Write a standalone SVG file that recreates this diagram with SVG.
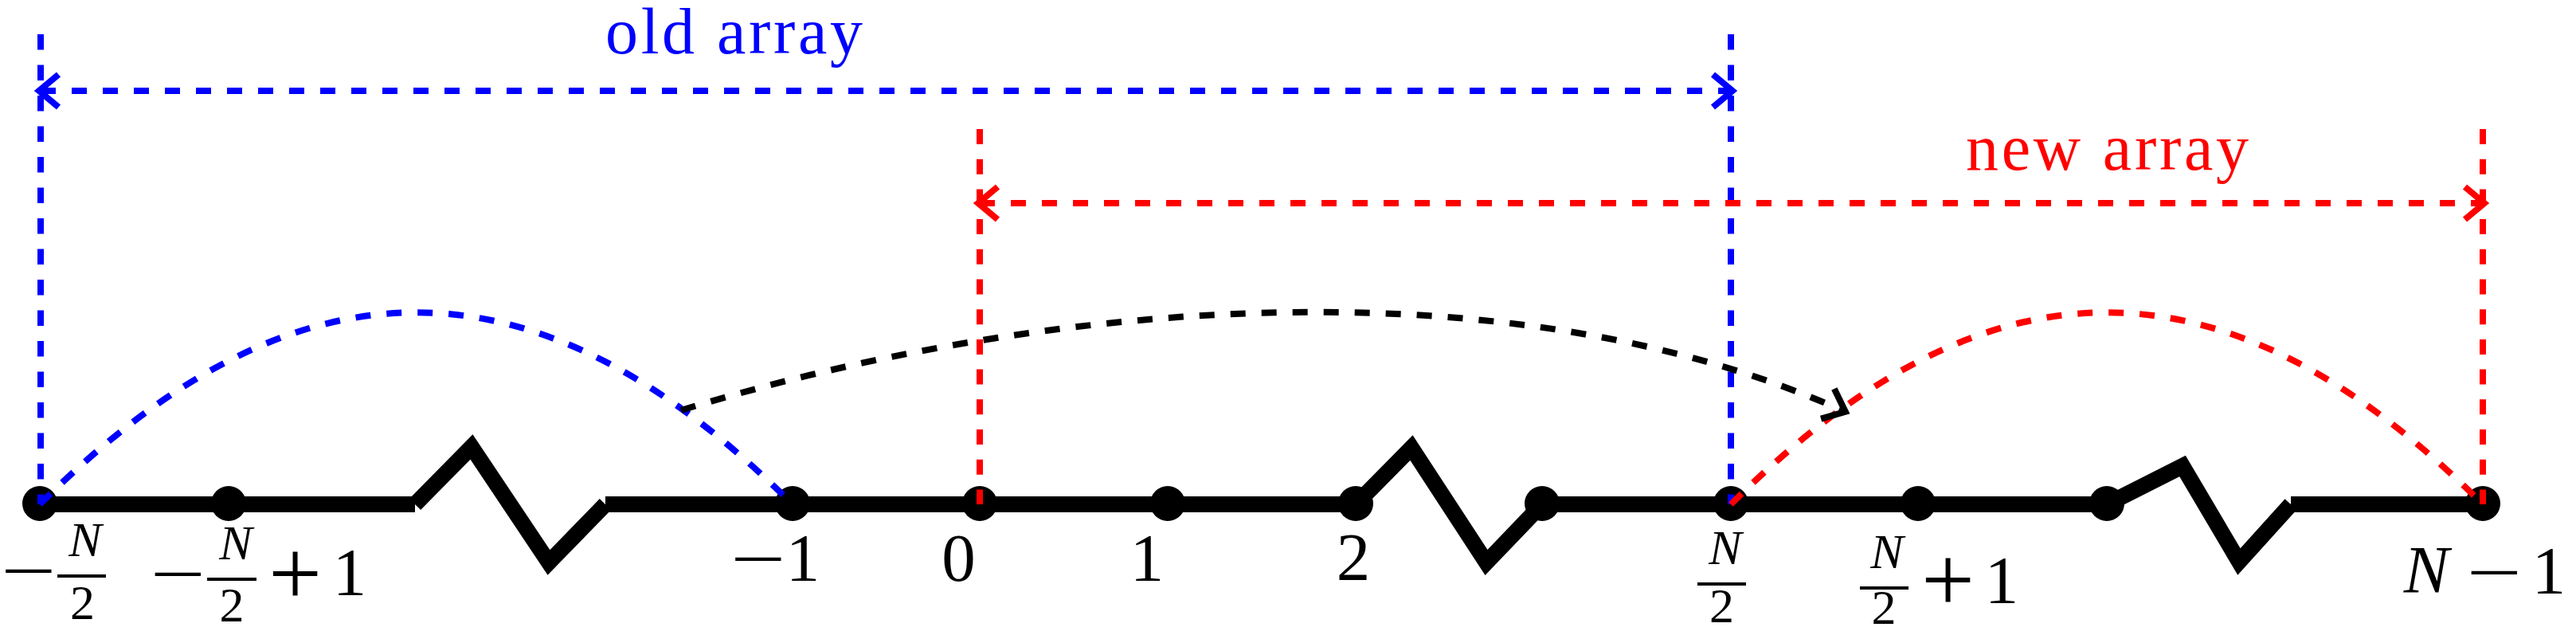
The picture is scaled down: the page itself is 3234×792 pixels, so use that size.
<svg xmlns="http://www.w3.org/2000/svg" width="3234" height="792" viewBox="0 0 3234 792">
<style>
.t{font-family:"Liberation Serif","DejaVu Serif",serif;fill:#000}
.m{font-size:85px}
.s{font-size:62px}
.i{font-style:italic}
.bar{stroke:#000;stroke-width:4}
.dot{fill:#000}
.base{stroke:#000;stroke-width:20;fill:none;stroke-linecap:butt;stroke-linejoin:miter}
.d{stroke-width:8;fill:none;stroke-dasharray:19 20;stroke-linecap:butt}
.blue{stroke:#0000ff}
.red{stroke:#ff0000}
.blk{stroke:#000}
.lbl{font-family:"Liberation Serif","DejaVu Serif",serif;font-size:82px}
</style>
<defs>
<marker id="aB" viewBox="-40 -30 50 60" markerWidth="50" markerHeight="60" refX="-2" refY="0" orient="auto-start-reverse" markerUnits="userSpaceOnUse"><path d="M-24.5,-20.5 L0,0 L-24.5,20.5" fill="none" stroke="#0000ff" stroke-width="8"/></marker>
<marker id="aR" viewBox="-40 -30 50 60" markerWidth="50" markerHeight="60" refX="-2" refY="0" orient="auto-start-reverse" markerUnits="userSpaceOnUse"><path d="M-24.5,-20.5 L0,0 L-24.5,20.5" fill="none" stroke="#ff0000" stroke-width="8"/></marker>
<marker id="aK" viewBox="-40 -30 50 60" markerWidth="50" markerHeight="60" refX="-2" refY="0" orient="auto" markerUnits="userSpaceOnUse"><path d="M-24.5,-20.5 L0,0 L-24.5,20.5" fill="none" stroke="#000" stroke-width="8"/></marker>
</defs>
<g id="nodes">
<g id="n_neg_half">
<circle class="dot" cx="50" cy="632" r="22"/>
<text class="t m" transform="translate(36,745) scale(1.45,1)" text-anchor="middle">−</text>
<line class="bar" x1="72" y1="723" x2="133" y2="723"/>
<text class="t s i" x="107" y="698" text-anchor="middle">N</text>
<text class="t s" x="103.5" y="777" text-anchor="middle">2</text>
</g>
<g id="n_neg_half_p1">
<circle class="dot" cx="287" cy="632" r="22"/>
<text class="t m" transform="translate(223.5,749) scale(1.45,1)" text-anchor="middle">−</text>
<line class="bar" x1="260" y1="727" x2="322" y2="727"/>
<text class="t s i" x="296" y="702" text-anchor="middle">N</text>
<text class="t s" x="291" y="780" text-anchor="middle">2</text>
<text class="t m" transform="translate(370.5,760) scale(1.4)" text-anchor="middle">+</text>
<text class="t m" x="439" y="747" text-anchor="middle">1</text>
</g>
<g id="n_m1">
<circle class="dot" cx="995" cy="632" r="22"/>
<text class="t m" transform="translate(952,730) scale(1.45,1)" text-anchor="middle">−</text>
<text class="t m" x="1008" y="729" text-anchor="middle">1</text>
</g>
<g id="n_0">
<circle class="dot" cx="1230" cy="632" r="22"/>
<text class="t m" x="1203.5" y="729" text-anchor="middle">0</text>
</g>
<g id="n_1">
<circle class="dot" cx="1466" cy="632" r="22"/>
<text class="t m" x="1440" y="729" text-anchor="middle">1</text>
</g>
<g id="n_2">
<circle class="dot" cx="1702" cy="632" r="22"/>
<text class="t m" x="1699" y="728" text-anchor="middle">2</text>
</g>
<g id="n_3">
<circle class="dot" cx="1936" cy="632" r="22"/>
</g>
<g id="n_half">
<circle class="dot" cx="2173" cy="632" r="22"/>
<line class="bar" x1="2131" y1="733" x2="2192" y2="733"/>
<text class="t s i" x="2166" y="708" text-anchor="middle">N</text>
<text class="t s" x="2161.5" y="781" text-anchor="middle">2</text>
</g>
<g id="n_half_p1">
<circle class="dot" cx="2408" cy="632" r="22"/>
<line class="bar" x1="2335" y1="738" x2="2396" y2="738"/>
<text class="t s i" x="2369" y="713" text-anchor="middle">N</text>
<text class="t s" x="2365" y="783" text-anchor="middle">2</text>
<text class="t m" transform="translate(2445.5,768) scale(1.4)" text-anchor="middle">+</text>
<text class="t m" x="2513" y="757" text-anchor="middle">1</text>
</g>
<g id="n_half_p2">
<circle class="dot" cx="2645" cy="632" r="22"/>
</g>
<g id="n_Nm1">
<circle class="dot" cx="3117" cy="632" r="22"/>
<text class="t m i" x="3046" y="744" text-anchor="middle">N</text>
<text class="t m" transform="translate(3131.5,747) scale(1.45,1)" text-anchor="middle">−</text>
<text class="t m" x="3200" y="745" text-anchor="middle">1</text>
</g>
</g>
<g id="connectors">
<g id="axis">
<line class="base" x1="50" y1="633" x2="521" y2="633"/>
<polyline class="base" points="521,633 592,561 689,706 760,633"/>
<line class="base" x1="760" y1="633" x2="1702" y2="633"/>
<polyline class="base" points="1702,633 1772,562 1866,706 1936,633"/>
<line class="base" x1="1936" y1="633" x2="2645" y2="633"/>
<polyline class="base" points="2645,633 2740,585 2811,705 2876,633"/>
<line class="base" x1="2876" y1="633" x2="3117" y2="633"/>
</g>
<g id="old_array">
<line class="d blue" x1="51" y1="43" x2="51" y2="633" style="stroke-dasharray:19.5 19"/>
<line class="d blue" x1="2173" y1="43" x2="2173" y2="633" style="stroke-dasharray:19.5 19"/>
<line class="d blue" x1="51" y1="114" x2="2173" y2="114" marker-start="url(#aB)" marker-end="url(#aB)"/>
<text class="lbl" x="760" y="67" fill="#0000ff" textLength="323" lengthAdjust="spacing">old array</text>
<path class="d blue" d="M50,633 C371,312 674,312 995,633"/>
</g>
<g id="new_array">
<line class="d red" x1="1230" y1="162" x2="1230" y2="633" style="stroke-dasharray:19 18.7"/>
<line class="d red" x1="3117" y1="162" x2="3117" y2="633" style="stroke-dasharray:19 18.7"/>
<line class="d red" x1="1230" y1="255" x2="3117" y2="255" marker-start="url(#aR)" marker-end="url(#aR)"/>
<text class="lbl" x="2468" y="213" fill="#ff0000" textLength="355" lengthAdjust="spacing">new array</text>
<path class="d red" d="M2173,633 C2494,312 2796,312 3117,633"/>
</g>
<path id="shift" class="d blk" d="M855,515 C1303,378 1887,325 2315,516" marker-end="url(#aK)"/>
</g>
</svg>
